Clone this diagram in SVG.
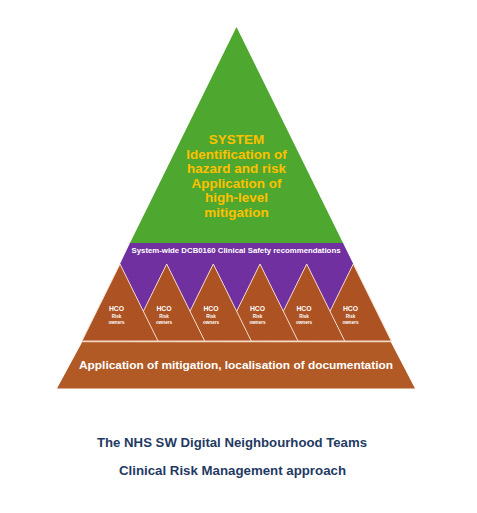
<svg xmlns="http://www.w3.org/2000/svg" width="477" height="513" viewBox="0 0 477 513">
  <style>
    .t { font-family: "Liberation Sans", Arial, sans-serif; font-weight: bold; text-anchor: middle; }
    .sys { fill: #FFC000; font-size: 13.5px; }
    .wh { fill: #FFFFFF; }
    .hco { font-size: 6.8px; }
    .small { font-size: 4.6px; }
    .tri { fill: #AC5223; stroke: #F6DDCB; stroke-width: 1; stroke-linejoin: miter; }
    .title { fill: #1F3A63; font-size: 13px; }
  </style>
  <rect width="477" height="513" fill="#FFFFFF"/>

  <g id="system">
    <polygon points="236.5,27 343,243 130,243" fill="#4EA72E"/>
    <text class="t sys" x="236.5" y="144">SYSTEM</text>
    <text class="t sys" x="236.5" y="158.6">Identification of</text>
    <text class="t sys" x="236.5" y="173.2">hazard and risk</text>
    <text class="t sys" x="236.5" y="187.8">Application of</text>
    <text class="t sys" x="236.5" y="202.4">high-level</text>
    <text class="t sys" x="236.5" y="217">mitigation</text>
  </g>

  <g id="dcb0160">
    <polygon points="130,243 343,243 353.3,264 353.3,315 120,315 120,264" fill="#7030A0"/>
    <text class="t wh" x="236" y="252.5" font-size="7.6" textLength="209" lengthAdjust="spacingAndGlyphs">System-wide DCB0160 Clinical Safety recommendations</text>
  </g>

  <g id="application">
    <polygon points="82.5,341.5 390.5,341.5 415,388.5 57,388.5" fill="#B15A25"/>
    <line x1="82.5" y1="341.5" x2="390.5" y2="341.5" stroke="#F3D2BC" stroke-width="1.6"/>
    <text class="t wh" x="236" y="369" font-size="11.5" textLength="314" lengthAdjust="spacingAndGlyphs">Application of mitigation, localisation of documentation</text>
  </g>

  <g id="hco6">
    <polygon class="tri" points="353.3,264 391.3,341 315.3,341"/>
    <text class="t wh hco" x="350.5" y="311">HCO</text>
    <text class="t wh small" x="350.5" y="318">Risk</text>
    <text class="t wh small" x="350.5" y="324.3">owners</text>
  </g>
  <g id="hco5">
    <polygon class="tri" points="306.7,264 344.7,341 268.7,341"/>
    <text class="t wh hco" x="304" y="311">HCO</text>
    <text class="t wh small" x="304" y="318">Risk</text>
    <text class="t wh small" x="304" y="324.3">owners</text>
  </g>
  <g id="hco4">
    <polygon class="tri" points="260,264 298,341 222,341"/>
    <text class="t wh hco" x="257.5" y="311">HCO</text>
    <text class="t wh small" x="257.5" y="318">Risk</text>
    <text class="t wh small" x="257.5" y="324.3">owners</text>
  </g>
  <g id="hco3">
    <polygon class="tri" points="213.3,264 251.3,341 175.3,341"/>
    <text class="t wh hco" x="211" y="311">HCO</text>
    <text class="t wh small" x="211" y="318">Risk</text>
    <text class="t wh small" x="211" y="324.3">owners</text>
  </g>
  <g id="hco2">
    <polygon class="tri" points="166.7,264 204.7,341 128.7,341"/>
    <text class="t wh hco" x="164" y="311">HCO</text>
    <text class="t wh small" x="164" y="318">Risk</text>
    <text class="t wh small" x="164" y="324.3">owners</text>
  </g>
  <g id="hco1">
    <polygon class="tri" points="120,264 158,341 82,341"/>
    <text class="t wh hco" x="116.5" y="311">HCO</text>
    <text class="t wh small" x="116.5" y="318">Risk</text>
    <text class="t wh small" x="116.5" y="324.3">owners</text>
  </g>

  <g id="caption">
    <text class="t title" x="232" y="447" textLength="270" lengthAdjust="spacingAndGlyphs">The NHS SW Digital Neighbourhood Teams</text>
    <text class="t title" x="232.5" y="475" textLength="227" lengthAdjust="spacingAndGlyphs">Clinical Risk Management approach</text>
  </g>
</svg>
